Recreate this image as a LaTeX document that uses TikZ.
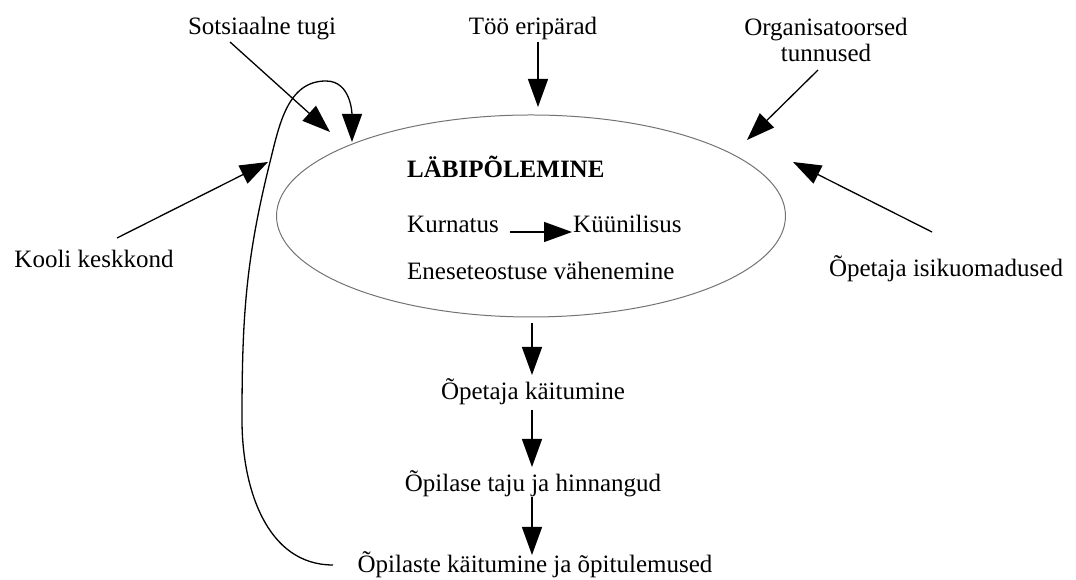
\documentclass[tikz,border=0pt]{standalone}
\usepackage{fontspec}
\setmainfont{Liberation Serif}
\usetikzlibrary{arrows.meta,shapes.geometric}
\begin{document}
\begin{tikzpicture}[x=1pt,y=1pt,
  lbl/.style={inner sep=0pt, anchor=base, font=\fontsize{25}{27}\selectfont},
  lbll/.style={lbl, anchor=base west},
  arr/.style={line width=1.3pt, -{Triangle[length=28pt,width=20pt]}},
]
\useasboundingbox (0,0) rectangle (1076,580);
% ellipse
\node[draw=black!55, line width=1pt, ellipse, minimum width=509pt, minimum height=202pt, inner sep=0pt] (ell) at (531,364) {};
% labels
\node[lbl] (sotsi) at (262,545) {Sotsiaalne tugi};
\node[lbl] (too) at (533,545) {Töö eripärad};
\node[lbl, align=center] (org) at (826,518) {Organisatoorsed\\[-1pt]tunnused};
\node[lbl] (kooli) at (94,312) {Kooli keskkond};
\node[lbl] (isik) at (946,303) {Õpetaja isikuomadused};
\node[lbll, font=\fontsize{25}{27}\selectfont\bfseries] (lab) at (407,402) {LÄBIPÕLEMINE};
\node[lbll] (kurn) at (407,347) {Kurnatus};
\node[lbll] (kyy) at (573,347) {Küünilisus};
\node[lbll] (enes) at (407,300) {Eneseteostuse vähenemine};
\node[lbl] (opk) at (533,180) {Õpetaja käitumine};
\node[lbl] (opt) at (533,88) {Õpilase taju ja hinnangud};
\node[lbl] (opl) at (535,7) {Õpilaste käitumine ja õpitulemused};
% coordinates
\coordinate (sotsS) at (230,538);
\coordinate (sotsE) at (330,448);
\coordinate (tooS) at (538,538);
\coordinate (tooE) at (538,473);
\coordinate (orgS) at (818,510);
\coordinate (orgE) at (747,440);
\coordinate (isikS) at (932,348);
\coordinate (isikE) at (793,418);
\coordinate (kooliS) at (117,342);
\coordinate (kooliE) at (268,418);
\coordinate (kurnS) at (510,348);
\coordinate (kurnE) at (572,348);
\coordinate (d1S) at (532,257);
\coordinate (d1E) at (532,205);
\coordinate (d2S) at (532,170);
\coordinate (d2E) at (532,113);
\coordinate (d3S) at (532,83);
\coordinate (d3E) at (532,25);
\coordinate (loopA) at (333,15);
\coordinate (loopB) at (242,160);
\coordinate (loopC) at (270,418);
\coordinate (loopD) at (326,499);
\coordinate (loopE) at (352,438);
% arrows
\draw[arr] (sotsS) -- (sotsE);
\draw[arr] (tooS) -- (tooE);
\draw[arr] (orgS) -- (orgE);
\draw[arr] (isikS) -- (isikE);
\draw[arr] (kooliS) -- (kooliE);
\draw[arr] (kurnS) -- (kurnE);
\draw[arr] (d1S) -- (d1E);
\draw[arr] (d2S) -- (d2E);
\draw[arr] (d3S) -- (d3E);
\draw[arr] (loopA) to[out=180,in=-90] (loopB) to[out=90,in=-104] (loopC) to[out=76,in=180] (loopD) to[out=0,in=90] (loopE);
\end{tikzpicture}
\end{document}
